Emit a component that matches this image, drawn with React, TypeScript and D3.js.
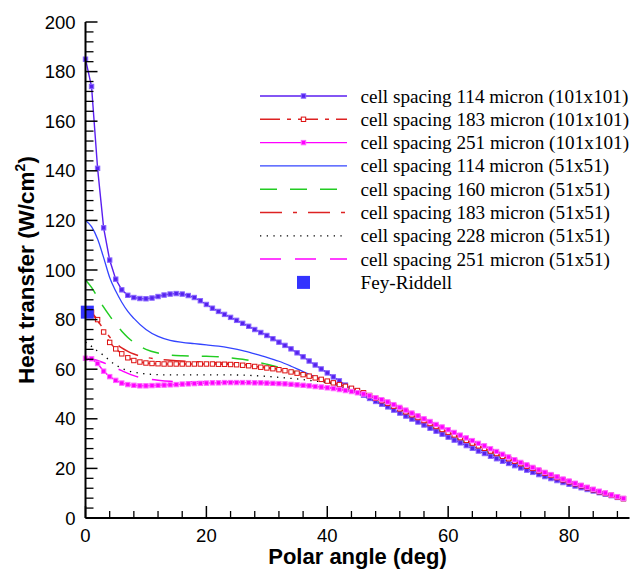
import React from 'react';
import * as d3 from 'd3';

// angles (deg) of the fine-grid solutions, one marker per point
const ANGLE_101 = [
  0, 1, 2, 3, 4, 5, 6, 7, 8, 9, 10, 11, 12, 13, 14, 15, 16, 17, 18, 19,
  20, 21, 22, 23, 24, 25, 26, 27, 28, 29, 30, 31, 32, 33, 34, 35, 36, 37, 38, 39,
  40, 41, 42, 43, 44, 45, 46, 47, 48, 49, 50, 51, 52, 53, 54, 55, 56, 57, 58, 59,
  60, 61, 62, 63, 64, 65, 66, 67, 68, 69, 70, 71, 72, 73, 74, 75, 76, 77, 78, 79,
  80, 81, 82, 83, 84, 85, 86, 87, 88, 89,
];
const HT_114_101 = [
  185, 174, 141, 117, 104, 96.3, 92, 89.8, 88.9, 88.5, 88.4, 88.7, 89.3, 89.9, 90.3, 90.5, 90.3, 89.7, 88.9, 87.6,
  86.1, 84.6, 83.3, 82.1, 80.9, 79.7, 78.5, 77.3, 76, 74.8, 73.6, 72.3, 70.9, 69.6, 68.2, 66.6, 65, 63.3, 61.7, 60.1,
  58.5, 56.9, 55.3, 53.6, 52, 50.8, 49.5, 48.2, 47, 45.9, 44.8, 43.5, 42.3, 41.1, 39.9, 38.7, 37.5, 36.2, 35, 33.8,
  32.6, 31.4, 30.3, 29.2, 28.1, 27, 26, 24.9, 23.9, 22.9, 22, 21.1, 20.2, 19.3, 18.4, 17.5, 16.7, 15.9, 15.1, 14.3,
  13.6, 12.9, 12.2, 11.5, 10.9, 10.2, 9.6, 9, 8.3, 7.8,
];
const HT_183_101 = [
  83.5, 83, 80, 75, 70.8, 68.2, 66.2, 64.6, 63.5, 62.9, 62.5, 62.3, 62.2, 62.1, 62.1, 62.1, 62.1, 62.1, 62.1, 62.1,
  62.1, 62.1, 62, 62, 61.9, 61.8, 61.6, 61.4, 61.1, 60.8, 60.5, 60.2, 59.8, 59.4, 58.9, 58.4, 57.8, 57.2, 56.5, 55.9,
  55.2, 54.5, 53.8, 53.1, 52.3, 51.4, 50.5, 49.4, 48.3, 47.3, 46.2, 45.1, 44, 42.8, 41.6, 40.5, 39.3, 38.1, 36.9, 35.7,
  34.6, 33.5, 32.4, 31.3, 30.2, 29.1, 28.1, 27, 26, 24.9, 23.9, 22.9, 21.9, 20.9, 20, 19, 18.1, 17.2, 16.3, 15.4,
  14.6, 13.8, 13, 12.2, 11.4, 10.6, 9.9, 9.2, 8.5, 7.8,
];
const HT_251_101 = [
  64.4, 64.2, 62.3, 59.2, 57, 55.5, 54.4, 53.8, 53.5, 53.3, 53.3, 53.4, 53.5, 53.6, 53.7, 53.8, 54, 54.1, 54.2, 54.3,
  54.4, 54.5, 54.5, 54.6, 54.6, 54.6, 54.6, 54.6, 54.5, 54.5, 54.4, 54.3, 54.2, 54.1, 53.9, 53.7, 53.5, 53.3, 53, 52.8,
  52.5, 52.2, 51.8, 51.4, 51, 50.5, 50, 49.3, 48.5, 47.7, 46.8, 45.7, 44.6, 43.5, 42.3, 41.2, 40, 38.9, 37.7, 36.7,
  35.6, 34.5, 33.4, 32.3, 31.2, 30.1, 29.1, 27.9, 26.8, 25.7, 24.6, 23.5, 22.4, 21.4, 20.4, 19.4, 18.4, 17.5, 16.6, 15.7,
  14.9, 14, 13.2, 12.4, 11.6, 10.8, 10.1, 9.3, 8.6, 7.9,
];

// coarse-grid solutions (lines only)
const ANGLE_51 = [
  0, 1, 2, 3, 4, 5, 6, 7, 8, 10, 12, 14, 16, 18, 20, 22, 24, 26, 28, 30, 32, 34, 36, 38, 40,
  42, 44, 46, 48, 50, 52, 54, 56, 58, 60, 62, 64, 66, 68, 70, 72, 74, 76, 78, 80, 82, 84, 86, 88, 89,
];
const HT_114_51 = [
  120, 117.5, 112.5, 105, 97, 91.5, 87, 83.3, 80.5, 76, 73.2, 71.6, 70.8, 70.3, 69.8, 69.3, 68.5, 67.5, 66.2, 64.8, 63.2, 61.2, 59, 57, 55,
  53.2, 51.3, 49, 46.8, 44.6, 42.3, 40, 37.7, 35.4, 33.2, 31, 28.9, 26.8, 24.7, 22.8, 20.9, 19.1, 17.3, 15.7, 14.1, 12.7, 11.3, 10, 8.7, 8,
];
const HT_160_51 = [
  96, 93, 89, 85, 81.5, 78.2, 75.3, 72.8, 70.8, 68, 66.5, 65.7, 65.4, 65.3, 65.2, 65, 64.6, 64, 63.1, 62, 60.8, 59.5, 58.1, 56.6, 55,
  53.2, 51.4, 49.5, 47.3, 45.2, 43, 40.7, 38.4, 36.1, 33.9, 31.7, 29.5, 27.4, 25.3, 23.3, 21.3, 19.4, 17.6, 15.9, 14.3, 12.8, 11.3, 9.9, 8.5, 7.8,
];
const HT_183_51 = [
  83, 82.3, 79.5, 76.2, 73, 70.5, 68.6, 67.2, 66.1, 64.8, 64, 63.6, 63.3, 63.1, 62.8, 62.6, 62.3, 61.9, 61.4, 60.7, 59.9, 58.9, 57.8, 56.5, 55.2,
  53.8, 52.3, 50.4, 48.2, 46.1, 43.9, 41.5, 39.2, 36.8, 34.5, 32.3, 30.1, 28, 25.9, 23.8, 21.8, 19.9, 18, 16.2, 14.5, 12.9, 11.4, 9.9, 8.5, 7.8,
];
const HT_228_51 = [
  71, 69.2, 67.3, 65.6, 63.5, 61.7, 60.4, 59.4, 58.8, 58.1, 57.8, 57.7, 57.7, 57.7, 57.7, 57.7, 57.7, 57.6, 57.4, 57.1, 56.7, 56.3, 55.8, 55.2, 54.6,
  53.8, 52.5, 50.8, 48.7, 46.5, 44.3, 42, 39.6, 37.2, 34.9, 32.7, 30.5, 28.4, 26.3, 24.2, 22.2, 20.2, 18.3, 16.5, 14.8, 13.2, 11.6, 10.1, 8.6, 7.9,
];
const HT_251_51 = [
  64, 64, 63.5, 62.6, 61.6, 60.5, 59.4, 58.3, 57.4, 56.2, 55.5, 55.1, 55, 54.9, 54.9, 54.9, 54.9, 54.8, 54.7, 54.5, 54.3, 54, 53.6, 53.2, 52.7,
  52, 51.1, 50, 48.5, 46.8, 44.6, 42.3, 40, 37.7, 35.5, 33.3, 31.1, 29, 26.8, 24.6, 22.4, 20.4, 18.4, 16.6, 14.9, 13.2, 11.6, 10.1, 8.6, 7.9,
];

const FEY_ANGLE = [0.3];
const FEY_HT = [83];

const X_MAJOR = [0, 20, 40, 60, 80];
const Y_MAJOR = [0, 20, 40, 60, 80, 100, 120, 140, 160, 180, 200];

const LABELS = [
  'cell spacing 114 micron (101x101)',
  'cell spacing 183 micron (101x101)',
  'cell spacing 251 micron (101x101)',
  'cell spacing 114 micron (51x51)',
  'cell spacing 160 micron (51x51)',
  'cell spacing 183 micron (51x51)',
  'cell spacing 228 micron (51x51)',
  'cell spacing 251 micron (51x51)',
  'Fey-Riddell',
];

type Style = { color: string; width: number; dash?: string; marker?: 'fill' | 'hollow'; mfill?: string; mstroke?: string };

const series: { x: number[]; y: number[]; style: Style; legend: number }[] = [
  { x: ANGLE_51, y: HT_114_51, legend: 3, style: { color: '#3344ff', width: 1.3 } },
  { x: ANGLE_51, y: HT_160_51, legend: 4, style: { color: '#22cc22', width: 1.5, dash: '17,13' } },
  { x: ANGLE_51, y: HT_183_51, legend: 5, style: { color: '#dd2222', width: 1.5, dash: '22,11,4,11' } },
  { x: ANGLE_51, y: HT_228_51, legend: 6, style: { color: '#000000', width: 1.3, dash: '1.3,5.4' } },
  { x: ANGLE_51, y: HT_251_51, legend: 7, style: { color: '#ff00ff', width: 1.5, dash: '21,14' } },
  { x: ANGLE_101, y: HT_114_101, legend: 0, style: { color: '#5a1ef0', width: 1.4, marker: 'fill', mfill: '#5522ee', mstroke: '#8866ff' } },
  { x: ANGLE_101, y: HT_183_101, legend: 1, style: { color: '#dd2222', width: 1.4, dash: '20,7,4,7', marker: 'hollow', mfill: '#ffffff', mstroke: '#dd1111' } },
  { x: ANGLE_101, y: HT_251_101, legend: 2, style: { color: '#ff00ff', width: 1.4, marker: 'fill', mfill: '#ff00ff', mstroke: '#ff66ff' } },
];

const W = 631;
const H = 571;

export default function App() {
  const x = d3.scaleLinear().domain([0, 90]).range([85.5, 629.5]);
  const y = d3.scaleLinear().domain([0, 200]).range([518, 22]);
  const xMinor = d3.range(0, 90, 4).filter(v => !X_MAJOR.includes(v));
  const yMinor = d3.range(0, 200, 4).filter(v => !Y_MAJOR.includes(v));

  const sorted = [...series].sort((a, b) => a.legend - b.legend);
  const legendStyles = sorted.map(s => s.style);

  return (
    <div style={{ position: 'absolute', left: 0, top: 0 }}>
      <svg width={W} height={H} style={{ display: 'block', background: '#fff' }}>
        {series.map((s, i) => {
          const pts: [number, number][] = s.x.map((a, k) => [a, s.y[k]]);
          const line = d3.line<[number, number]>()
            .x(d => x(d[0]))
            .y(d => y(d[1]))
            .curve(s.style.marker ? d3.curveLinear : d3.curveMonotoneX);
          return (
            <g key={i}>
              <path d={line(pts) || ''} fill="none" stroke={s.style.color}
                strokeWidth={s.style.width} strokeDasharray={s.style.dash} />
              {s.style.marker && pts.map((p, k) => (
                <rect key={k} x={x(p[0]) - 2.2} y={y(p[1]) - 2.2} width={4.4} height={4.4}
                  fill={s.style.mfill} stroke={s.style.mstroke} strokeWidth={1} />
              ))}
            </g>
          );
        })}

        {FEY_ANGLE.map((a, i) => (
          <rect key={i} x={x(a) - 6.5} y={y(FEY_HT[i]) - 6.5} width={13} height={13} fill="#3333ff" />
        ))}

        {/* axes */}
        <g stroke="#000">
          <line x1={x(0)} x2={x(90)} y1={y(0)} y2={y(0)} strokeWidth={2} />
          <line x1={x(0)} x2={x(0)} y1={y(0)} y2={y(200)} strokeWidth={2} />
          {X_MAJOR.map(v => <line key={'xm' + v} x1={x(v)} x2={x(v)} y1={y(0)} y2={y(0) - 12} strokeWidth={1.5} />)}
          {xMinor.map(v => <line key={'xn' + v} x1={x(v)} x2={x(v)} y1={y(0)} y2={y(0) - 7} strokeWidth={1.3} />)}
          {Y_MAJOR.map(v => <line key={'ym' + v} x1={x(0)} x2={x(0) + 12} y1={y(v)} y2={y(v)} strokeWidth={1.5} />)}
          {yMinor.map(v => <line key={'yn' + v} x1={x(0)} x2={x(0) + 8} y1={y(v)} y2={y(v)} strokeWidth={1.3} />)}
        </g>
        <g fontFamily="'Liberation Sans', Arial, sans-serif" fontSize={18.5} fill="#000">
          {X_MAJOR.map(v => (
            <text key={'xl' + v} x={x(v)} y={y(0) + 24} textAnchor="middle">{v}</text>
          ))}
          {Y_MAJOR.map(v => (
            <text key={'yl' + v} x={x(0) - 10} y={y(v) + 6.5} textAnchor="end">{v}</text>
          ))}
        </g>
        <text x={(x(0) + x(90)) / 2} y={564} textAnchor="middle"
          fontFamily="'Liberation Sans', Arial, sans-serif" fontWeight="bold" fontSize={22}>
          Polar angle (deg)
        </text>
        <text transform={`translate(34,${(y(0) + y(200)) / 2}) rotate(-90)`} textAnchor="middle"
          fontFamily="'Liberation Sans', Arial, sans-serif" fontWeight="bold" fontSize={22.5}>
          Heat transfer (W/cm<tspan dy={-9} fontSize={14}>2</tspan><tspan dy={9}>)</tspan>
        </text>

        {/* legend */}
        <g fontFamily="'Liberation Serif', 'Times New Roman', serif" fontSize={19.2}>
          {LABELS.map((lab, i) => {
            const cy = 96 + i * 23.3;
            const st = legendStyles[i];
            return (
              <g key={lab}>
                {st ? (
                  <>
                    <line x1={260} x2={347} y1={cy} y2={cy} stroke={st.color}
                      strokeWidth={st.width} strokeDasharray={st.dash} />
                    {st.marker && (
                      <rect x={303.5 - 2.2} y={cy - 2.2} width={4.4} height={4.4}
                        fill={st.mfill} stroke={st.mstroke} strokeWidth={1} />
                    )}
                  </>
                ) : (
                  <rect x={303.5 - 6.5} y={cy - 6.5} width={13} height={13} fill="#3333ff" />
                )}
                <text x={360.5} y={cy + 6.5}>{lab}</text>
              </g>
            );
          })}
        </g>
      </svg>
    </div>
  );
}
